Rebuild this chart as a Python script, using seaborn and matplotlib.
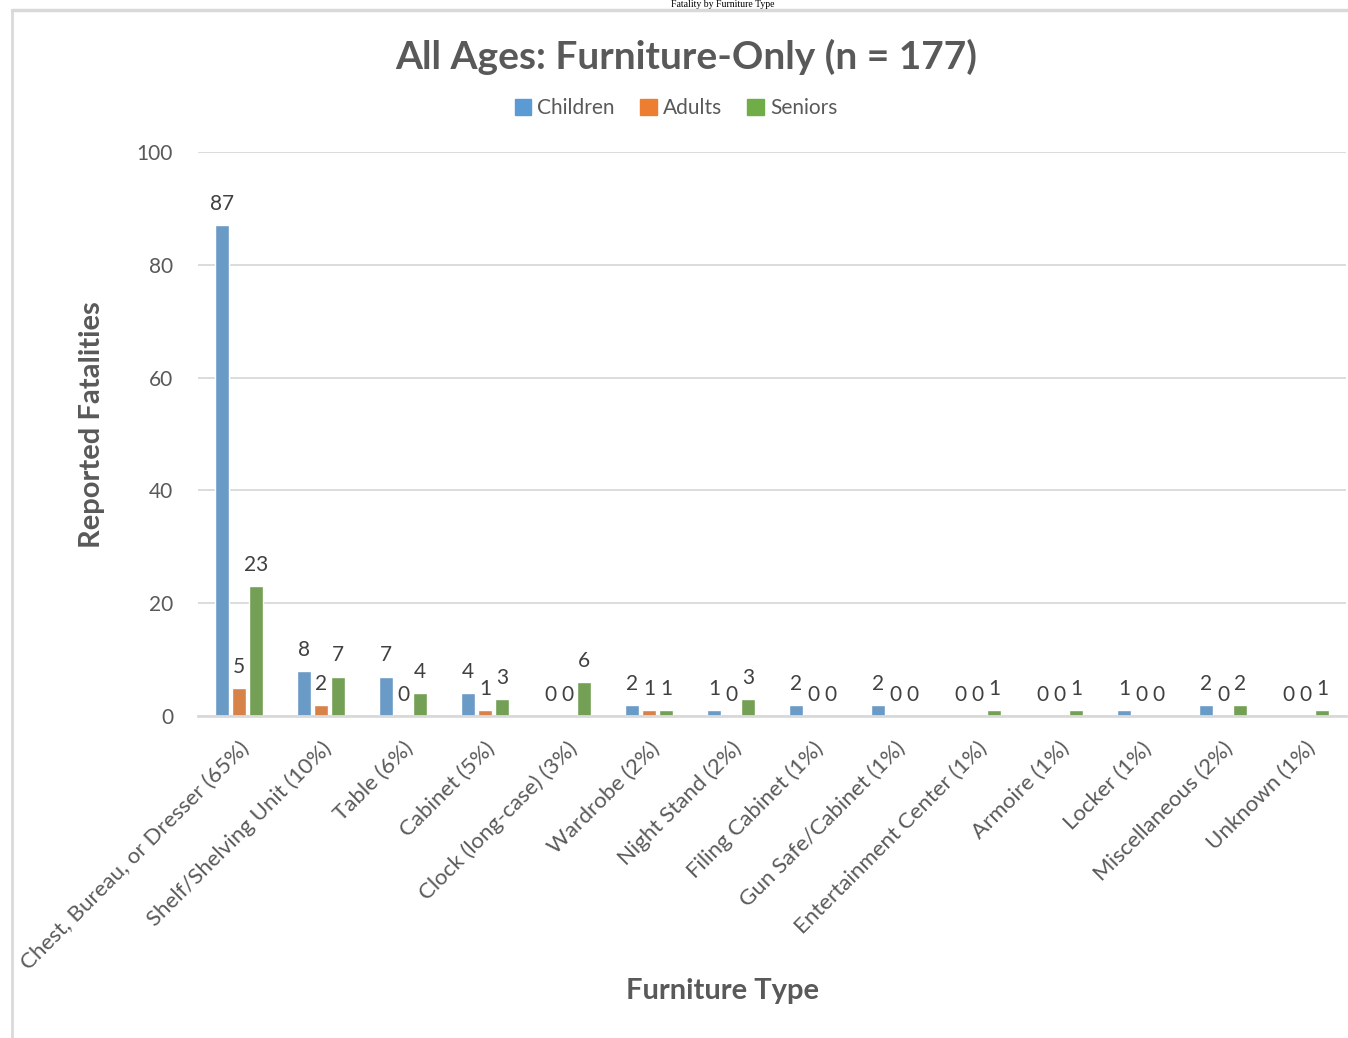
import seaborn as sns
import matplotlib.pyplot as plt
import pandas as pd
from matplotlib.lines import Line2D

# 가구 종류별 사망자 수 (연령대별)
furniture = ["Chest, Bureau, or Dresser (65%)", "Shelf/Shelving Unit (10%)", "Table (6%)",
             "Cabinet (5%)", "Clock (long-case) (3%)", "Wardrobe (2%)", "Night Stand (2%)",
             "Filing Cabinet (1%)", "Gun Safe/Cabinet (1%)", "Entertainment Center (1%)",
             "Armoire (1%)", "Locker (1%)", "Miscellaneous (2%)", "Unknown (1%)"]
children = [87, 8, 7, 4, 0, 2, 1, 2, 2, 0, 0, 1, 2, 0]
adults = [5, 2, 0, 1, 0, 1, 0, 0, 0, 0, 0, 0, 0, 0]
seniors = [23, 7, 4, 3, 6, 1, 3, 0, 0, 1, 1, 0, 2, 1]
groups = ["Children", "Adults", "Seniors"]
colors = ["#5B9BD5", "#ED7D31", "#70AD47"]

df = pd.DataFrame({
    "furniture": furniture * 3,
    "group": [g for g in groups for _ in furniture],
    "count": children + adults + seniors,
})

sns.set_style("white")
plt.rcParams['font.family'] = ['Lato', 'DejaVu Sans']
grey = "#595959"

fig = plt.figure(figsize=(13.48, 10.38), dpi=100)
ax = fig.add_axes([198/1348, 322/1038, 1148/1348, 564/1038])

sns.barplot(data=df, x="furniture", y="count", hue="group", palette=colors,
            width=0.62, gap=0.15, ax=ax, legend=False)

for c in ax.containers:
    ax.bar_label(c, padding=8, fontsize=15, color="#404040")

ax.set_ylim(0, 100)
ax.set_xlim(-0.5, len(furniture) - 0.5)
ax.set_yticks(range(0, 101, 20))
ax.yaxis.grid(True, color="#D9D9D9", linewidth=1.3)
ax.set_axisbelow(True)
for s in ["top", "right", "left"]:
    ax.spines[s].set_visible(False)
ax.spines["bottom"].set_color("#D9D9D9")
ax.spines["bottom"].set_linewidth(2)
ax.tick_params(axis="both", length=0, labelcolor=grey)
ax.tick_params(axis="y", pad=18, labelsize=15)
ax.set_xticks(range(len(furniture)))
ax.set_xticklabels(furniture, rotation=45, ha="right", rotation_mode="anchor")
ax.tick_params(axis="x", pad=16, labelsize=16)
ax.set_xlabel("")
ax.set_ylabel("")

# 제목, 축 이름
fig.text(686/1348, 1 - 57/1038, "All Ages: Furniture-Only (n = 177)", ha="center", va="center",
         fontsize=28, fontweight="bold", color=grey)
fig.text(92/1348, 1 - 425/1038, "Reported Fatalities", rotation=90, ha="center", va="center",
         fontsize=21, fontweight="bold", color=grey)
fig.text(722/1348, 1 - 991/1038, "Furniture Type", ha="center", va="center",
         fontsize=21, fontweight="bold", color=grey)

handles = [plt.Rectangle((0, 0), 1, 1, color=c) for c in colors]
fig.legend(handles, groups, loc="center", bbox_to_anchor=(676/1348, 1 - 108/1038), ncol=3,
           frameon=False, fontsize=15, labelcolor=grey, handlelength=0.8, handleheight=0.8,
           handletextpad=0.3, columnspacing=1.2)

# 차트 테두리, 위쪽 캡션
fig.add_artist(Line2D([12/1348, 1], [1 - 10/1038, 1 - 10/1038], color="#D9D9D9", linewidth=2.5))
fig.add_artist(Line2D([12/1348, 12/1348], [0, 1 - 10/1038], color="#D9D9D9", linewidth=2))
fig.text(775/1348, 1 - 7/1038, "Fatality by Furniture Type", ha="right", va="baseline",
         fontsize=7, family="Liberation Serif", color="black")

fig.savefig("out.png", dpi=100)
